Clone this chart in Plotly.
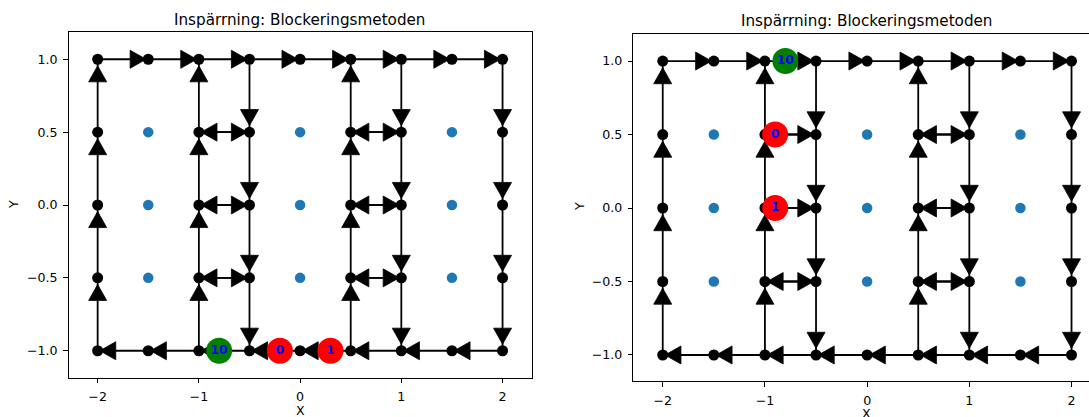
import plotly.graph_objects as go

W, H = 1089, 417

# ---------------- data ----------------
x_nodes = [-2, -1.5, -1, -0.5, 0, 0.5, 1, 1.5, 2]
y_levels = [-1.0, -0.5, 0.0, 0.5, 1.0]
top_row = 1.0
bottom_row = -1.0
up_cols = [-2, -1, 0.5]
down_cols = [-0.5, 1, 2]
mid_rows = [-0.5, 0.0, 0.5]
pair_spans = [(-1, -0.5), (0.5, 1)]
center_x = [-1.5, 0, 1.5]
center_y = [-0.5, 0.0, 0.5]

left_labels = ["10", "0", "1"]
left_label_x = [-0.8, -0.2, 0.3]
left_label_y = [-1.0, -1.0, -1.0]
left_label_colors = ["#008000", "#ff0000", "#ff0000"]

right_labels = ["10", "0", "1"]
right_label_x = [-0.8, -0.9, -0.9]
right_label_y = [1.0, 0.5, 0.0]
right_label_colors = ["#008000", "#ff0000", "#ff0000"]

title_text = "Inspärrning: Blockeringsmetoden"
x_tickvals = [-2, -1, 0, 1, 2]
x_ticktext = ["\u22122", "\u22121", "0", "1", "2"]
y_tickvals = [-1.0, -0.5, 0.0, 0.5, 1.0]
y_ticktext = ["\u22121.0", "\u22120.5", "0.0", "0.5", "1.0"]

# ---------------- graph edges ----------------
edges = []
for i in range(len(x_nodes) - 1):
    edges.append(((x_nodes[i], top_row), (x_nodes[i + 1], top_row)))
for i in range(len(x_nodes) - 1):
    edges.append(((x_nodes[i + 1], bottom_row), (x_nodes[i], bottom_row)))
for c in up_cols:
    for j in range(len(y_levels) - 1):
        edges.append(((c, y_levels[j]), (c, y_levels[j + 1])))
for c in down_cols:
    for j in range(len(y_levels) - 1):
        edges.append(((c, y_levels[j + 1]), (c, y_levels[j])))
for r in mid_rows:
    for a, b in pair_spans:
        edges.append(((a, r), (b, r)))
        edges.append(((b, r), (a, r)))

nodes = []
for e in edges:
    for p in e:
        if p not in nodes:
            nodes.append(p)

FONT = "DejaVu Sans"
TXT = "#000000"

# pixel boxes (left, top, right, bottom) and ranges
panels = [
    dict(box=(68.5, 32.3, 531.7, 377.7), xr=[-2.288, 2.288], yr=[-1.185, 1.185],
         labels=left_labels, lx=left_label_x, ly=left_label_y, lc=left_label_colors,
         title_xy=(300, 19.5), xlab_xy=(300, 410.5), ylab_xy=(13, 205), mirror_y=True),
    dict(box=(633.3, 33.7, 1089, 381), xr=[-2.288, 2.171], yr=[-1.177, 1.186],
         labels=right_labels, lx=right_label_x, ly=right_label_y, lc=right_label_colors,
         title_xy=(867, 21), xlab_xy=(866, 413.5), ylab_xy=(579, 207), mirror_y=False),
]

FRAC = 0.8
TRI_LEN = 16.0
TRI_BASE = 18.0

fig = go.Figure()
annotations = []
layout_axes = {}

for k, P in enumerate(panels):
    sfx = "" if k == 0 else str(k + 1)
    xa, ya = "x" + sfx, "y" + sfx
    x0, y0, x1, y1 = P["box"]
    kx = (x1 - x0) / (P["xr"][1] - P["xr"][0])
    ky = (y1 - y0) / (P["yr"][1] - P["yr"][0])

    # edge lines
    lx, ly = [], []
    for (a, b) in edges:
        lx += [a[0], b[0], None]
        ly += [a[1], b[1], None]
    fig.add_trace(go.Scatter(x=lx, y=ly, mode="lines", xaxis=xa, yaxis=ya,
                             line=dict(color="black", width=1.8),
                             hoverinfo="skip", showlegend=False))

    # arrow heads
    tx, ty = [], []
    for (a, b) in edges:
        cx = a[0] + FRAC * (b[0] - a[0])
        cy = a[1] + FRAC * (b[1] - a[1])
        ux = (b[0] - a[0]) * kx
        uy = (b[1] - a[1]) * ky
        n = (ux ** 2 + uy ** 2) ** 0.5
        ux, uy = ux / n, uy / n
        nx, ny = -uy, ux
        hl, hb = TRI_LEN / 2, TRI_BASE / 2
        pts = [(hl * ux, hl * uy),
               (-hl * ux + hb * nx, -hl * uy + hb * ny),
               (-hl * ux - hb * nx, -hl * uy - hb * ny)]
        for (ox, oy) in pts + [pts[0]]:
            tx.append(cx + ox / kx)
            ty.append(cy + oy / ky)
        tx.append(None)
        ty.append(None)
    fig.add_trace(go.Scatter(x=tx, y=ty, mode="lines", fill="toself", fillcolor="black",
                             xaxis=xa, yaxis=ya, line=dict(color="black", width=0.8),
                             hoverinfo="skip", showlegend=False))

    # nodes
    fig.add_trace(go.Scatter(x=[p[0] for p in nodes], y=[p[1] for p in nodes],
                             mode="markers", xaxis=xa, yaxis=ya,
                             marker=dict(color="black", size=11, line=dict(width=0)),
                             hoverinfo="skip", showlegend=False))
    # cell centres
    bx = [cx for cx in center_x for cy in center_y]
    by = [cy for cx in center_x for cy in center_y]
    fig.add_trace(go.Scatter(x=bx, y=by, mode="markers", xaxis=xa, yaxis=ya,
                             marker=dict(color="#1f77b4", size=10.5, line=dict(width=0)),
                             hoverinfo="skip", showlegend=False))
    # labelled circles
    fig.add_trace(go.Scatter(x=P["lx"], y=P["ly"], text=P["labels"], mode="markers+text",
                             xaxis=xa, yaxis=ya, textposition="middle center",
                             textfont=dict(family=FONT, size=12.5, color="#0000ff", weight="bold"),
                             marker=dict(color=P["lc"], size=26, line=dict(width=0)),
                             hoverinfo="skip", showlegend=False))

    common = dict(showgrid=False, zeroline=False, showline=True, linecolor="black",
                  linewidth=1, ticks="outside", ticklen=4.5, tickwidth=1, tickcolor="black",
                  tickfont=dict(family=FONT, size=12.6, color=TXT), ticklabelstandoff=3)
    layout_axes["xaxis" + sfx] = dict(common, domain=[x0 / W, x1 / W], range=P["xr"],
                                      anchor=ya, mirror=True,
                                      tickvals=x_tickvals, ticktext=x_ticktext)
    layout_axes["yaxis" + sfx] = dict(common, domain=[(H - y1) / H, (H - y0) / H],
                                      range=P["yr"], anchor=xa, mirror=P["mirror_y"],
                                      tickvals=y_tickvals, ticktext=y_ticktext)

    tx_, ty_ = P["title_xy"]
    annotations.append(dict(text=title_text, x=tx_ / W, y=(H - ty_) / H, xref="paper",
                            yref="paper", xanchor="center", yanchor="middle",
                            showarrow=False, font=dict(family=FONT, size=15.2, color=TXT)))
    xx, xy = P["xlab_xy"]
    annotations.append(dict(text="X", x=xx / W, y=(H - xy) / H, xref="paper", yref="paper",
                            xanchor="center", yanchor="middle", showarrow=False,
                            font=dict(family=FONT, size=12.6, color=TXT)))
    yx, yy = P["ylab_xy"]
    annotations.append(dict(text="Y", x=yx / W, y=(H - yy) / H, xref="paper", yref="paper",
                            xanchor="center", yanchor="middle", showarrow=False, textangle=-90,
                            font=dict(family=FONT, size=12.6, color=TXT)))

fig.update_layout(width=W, height=H, margin=dict(l=0, r=0, t=0, b=0),
                  paper_bgcolor="white", plot_bgcolor="white",
                  annotations=annotations, **layout_axes)

fig.write_html("out.html")
